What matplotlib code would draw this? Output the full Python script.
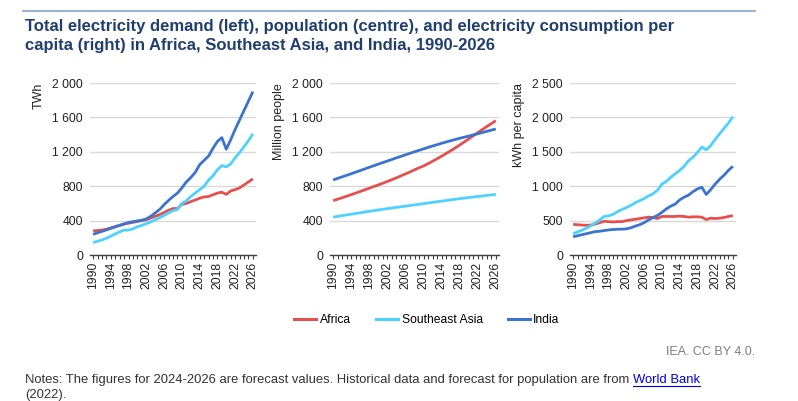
import matplotlib
matplotlib.use("Agg")
import matplotlib.pyplot as plt
from matplotlib.ticker import FuncFormatter, MultipleLocator
from matplotlib.lines import Line2D

plt.rcParams['font.family'] = ['Liberation Sans', 'DejaVu Sans']

years = list(range(1990, 2027))

# Total electricity demand, TWh
demand_africa = [280, 285, 290, 300, 315, 330, 345, 360, 370, 380, 390, 400, 410, 430, 450,
                 470, 495, 520, 540, 540, 590, 600, 620, 640, 660, 675, 680, 700, 720, 730,
                 705, 745, 760, 780, 815, 850, 885]
demand_sea = [145, 160, 175, 195, 220, 245, 270, 290, 290, 305, 330, 345, 365, 385, 410,
              435, 460, 490, 515, 530, 600, 630, 680, 720, 760, 800, 870, 920, 990, 1040,
              1025, 1060, 1130, 1190, 1260, 1330, 1410]
demand_india = [240, 258, 275, 292, 310, 328, 345, 362, 378, 388, 397, 405, 420, 450, 490,
                530, 585, 635, 680, 720, 780, 850, 900, 960, 1050, 1100, 1150, 1240, 1320, 1365,
                1230, 1340, 1460, 1570, 1680, 1790, 1900]

# Population, million people
pop_africa = [632, 649, 666, 684, 702, 720, 739, 758, 777, 797, 815, 835, 855, 876, 898,
              920, 943, 966, 990, 1014, 1035, 1062, 1090, 1119, 1149, 1180, 1212, 1245, 1279, 1314,
              1350, 1386, 1422, 1458, 1494, 1528, 1562]
pop_sea = [440, 449, 458, 466, 475, 483, 491, 500, 508, 516, 524, 532, 539, 547, 554,
           561, 568, 575, 583, 590, 597, 605, 612, 620, 627, 634, 641, 648, 655, 661,
           668, 674, 680, 686, 693, 699, 705]
pop_india = [873, 891, 909, 927, 945, 964, 982, 1001, 1020, 1038, 1057, 1075, 1093, 1111, 1130,
             1147, 1165, 1183, 1200, 1217, 1234, 1251, 1267, 1283, 1299, 1314, 1329, 1343, 1357, 1370,
             1383, 1396, 1410, 1424, 1438, 1452, 1465]

# Electricity consumption per capita, kWh
pc_africa = [445, 440, 435, 432, 435, 450, 470, 490, 485, 480, 485, 485, 500, 510, 520,
             530, 540, 550, 545, 530, 560, 560, 560, 560, 565, 560, 550, 555, 555, 550,
             515, 535, 530, 535, 545, 560, 572]
pc_sea = [310, 335, 360, 390, 425, 465, 510, 560, 570, 590, 630, 660, 690, 720, 760,
          790, 820, 860, 890, 940, 1030, 1070, 1130, 1180, 1230, 1290, 1370, 1420, 1490, 1570,
          1530, 1590, 1680, 1760, 1840, 1920, 2010]
pc_india = [265, 280, 295, 310, 325, 340, 345, 355, 365, 370, 375, 375, 380, 395, 420,
            440, 470, 510, 545, 575, 620, 670, 710, 740, 800, 840, 870, 920, 960, 985,
            880, 950, 1030, 1100, 1160, 1230, 1290]

c_africa = '#E5504F'
c_sea = '#4DD2FF'
c_india = '#3B73D1'

W, H = 798, 401
fig = plt.figure(figsize=(W / 100, H / 100), dpi=100)

def px_axes(left, top, width, height):
    return fig.add_axes([left / W, (H - top - height) / H, width / W, height / H])

def thousands(v, pos):
    return f"{int(round(v)):,}".replace(",", " ")

panels = [
    (90, 166, (demand_africa, demand_sea, demand_india), 2000, 400, 'TWh'),
    (330, 169, (pop_africa, pop_sea, pop_india), 2000, 400, 'Million people'),
    (570, 166, (pc_africa, pc_sea, pc_india), 2500, 500, 'kWh per capita'),
]

for left, width, series, ymax, step, label in panels:
    ax = px_axes(left, 83, width, 172)
    for vals, col in zip(series, (c_africa, c_sea, c_india)):
        ax.plot(years, vals, color=col, lw=2.0, solid_capstyle='butt', zorder=3)
    ax.set_xlim(1989.3, 2026.7)
    ax.set_ylim(0, ymax)
    ax.yaxis.set_major_locator(MultipleLocator(step))
    ax.yaxis.set_major_formatter(FuncFormatter(thousands))
    ax.xaxis.set_minor_locator(MultipleLocator(1))
    ax.set_xticks(range(1990, 2027, 4))
    ax.set_xticklabels([str(y) for y in range(1990, 2027, 4)], rotation=90)
    ax.grid(axis='y', color='#d9d9d9', lw=1.0, zorder=0)
    for s in ('top', 'right', 'left'):
        ax.spines[s].set_visible(False)
    ax.spines['bottom'].set_color('#404040')
    ax.spines['bottom'].set_linewidth(1.0)
    ax.tick_params(axis='y', length=0, pad=5, labelsize=8.8, labelcolor='#222222')
    ax.tick_params(axis='x', which='both', length=3, width=0.8, color='#404040',
                   direction='out', labelsize=8.8, labelcolor='#222222', pad=2)
    ax.set_ylabel(label, fontsize=9, color='#222222', loc='top', labelpad=5.5)

# top rule and title
fig.add_artist(Line2D([23 / W, 755 / W], [1 - 11 / H, 1 - 11 / H], color='#8FA9CF', lw=1.3))
fig.text(25 / W, 1 - 19 / H, "Total electricity demand (left), population (centre), and electricity consumption per\n"
         "capita (right) in Africa, Southeast Asia, and India, 1990-2026",
         ha='left', va='top', fontsize=12, fontweight='bold', color='#1F3F6E', linespacing=1.35)

# legend
handles = [Line2D([], [], color=c, lw=2.2) for c in (c_africa, c_sea, c_india)]
fig.legend(handles, ['Africa', 'Southeast Asia', 'India'], loc='center',
           bbox_to_anchor=(427 / W, 1 - 320 / H), ncol=3, frameon=False, fontsize=8.7,
           handlelength=1.8, handletextpad=0.3, columnspacing=2.1)

fig.text(755 / W, 1 - 352 / H, "IEA. CC BY 4.0.", ha='right', va='center', fontsize=9, color='#7f7f7f')

# notes with link
t1 = fig.text(25 / W, 1 - 380 / H,
              "Notes: The figures for 2024-2026 are forecast values. Historical data and forecast for population are from ",
              ha='left', va='center', fontsize=9.4, color='#333333')
fig.canvas.draw()
bb = t1.get_window_extent()
x_link = bb.x1 / W
t2 = fig.text(x_link, 1 - 380 / H, "World Bank", ha='left', va='center', fontsize=9.4, color='#0000EE')
fig.canvas.draw()
bb2 = t2.get_window_extent()
fig.add_artist(Line2D([bb2.x0 / W, bb2.x1 / W], [(bb2.y0 + 0.5) / H, (bb2.y0 + 0.5) / H],
                      color='#0000EE', lw=0.8))
fig.text(25 / W, 1 - 395 / H, "(2022).", ha='left', va='center', fontsize=9.4, color='#333333')

fig.savefig('out.png', dpi=100)
